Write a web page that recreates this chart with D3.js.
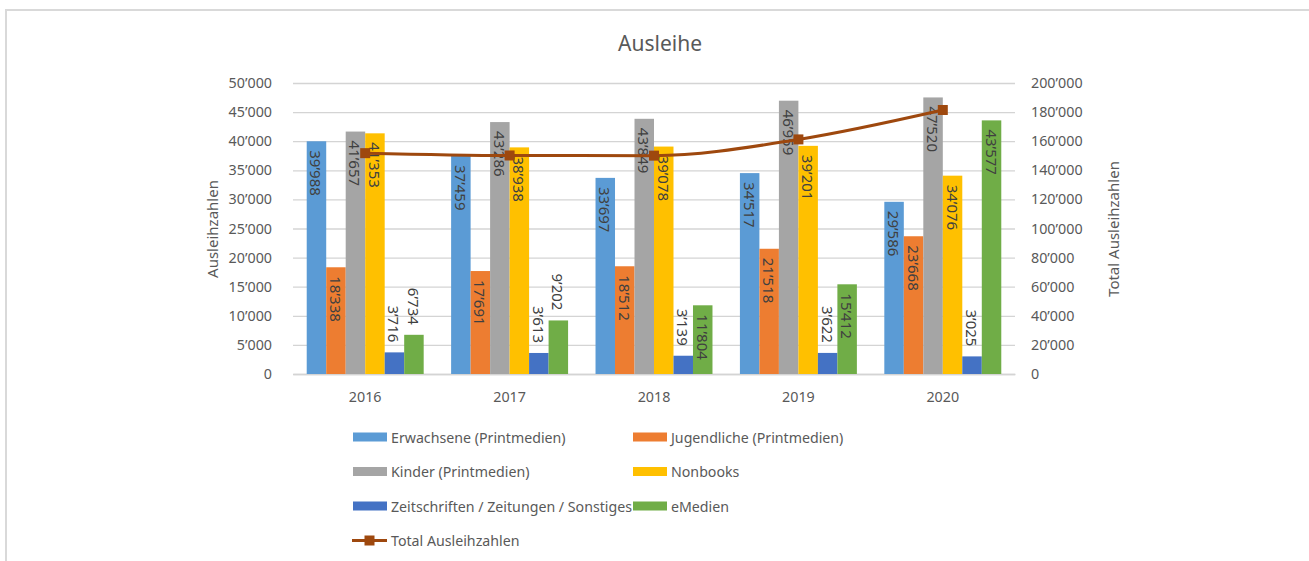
<!DOCTYPE html>
<html>
<head>
<meta charset="utf-8">
<script src="https://cdn.jsdelivr.net/npm/d3@7"></script>
<style>
  body { margin: 0; background: #fff; font-family: "Noto Sans", sans-serif; }
  text { fill: #595959; }
</style>
</head>
<body>
<svg id="chart" width="1309" height="561"></svg>
<script>
// data
var years = ["2016", "2017", "2018", "2019", "2020"];
var seriesNames = ["Erwachsene (Printmedien)", "Jugendliche (Printmedien)", "Kinder (Printmedien)",
                   "Nonbooks", "Zeitschriften / Zeitungen / Sonstiges", "eMedien"];
var erwachsene    = [39988, 37459, 33697, 34517, 29586];
var jugendliche   = [18338, 17691, 18512, 21518, 23668];
var kinder        = [41657, 43286, 43849, 46959, 47520];
var nonbooks      = [41353, 38938, 39078, 39201, 34076];
var zeitschriften = [3716, 3613, 3139, 3622, 3025];
var emedien       = [6734, 9202, 11804, 15412, 43577];
var total         = [151786, 150189, 150079, 161229, 181452];
var totalName = "Total  Ausleihzahlen";
var leftTicks  = [0, 5000, 10000, 15000, 20000, 25000, 30000, 35000, 40000, 45000, 50000];
var rightTicks = [0, 20000, 40000, 60000, 80000, 100000, 120000, 140000, 160000, 180000, 200000];

var colors = ["#5B9BD5", "#ED7D31", "#A5A5A5", "#FFC000", "#4472C4", "#70AD47"];
var lineColor = "#9E480E";
var seriesValues = [erwachsene, jugendliche, kinder, nonbooks, zeitschriften, emedien];

var loc = d3.formatLocale({decimal: ".", thousands: "\u2019", grouping: [3], currency: ["", ""]});
var fmt = loc.format(",d");

var svg = d3.select("#chart");

// outer frame
svg.append("rect")
  .attr("x", 6).attr("y", 10).attr("width", 1400).attr("height", 600)
  .attr("fill", "none").attr("stroke", "#d9d9d9").attr("stroke-width", 2);

var plotL = 293, plotR = 1015, plotB = 374, plotT = 83;

var x0 = d3.scaleBand().domain(years).range([plotL, plotR]).paddingInner(0.19).paddingOuter(0.095);
var x1 = d3.scaleBand().domain(d3.range(seriesNames.length)).range([0, x0.bandwidth()]);
var y = d3.scaleLinear().domain([0, 50000]).range([plotB, plotT]);
var y2 = d3.scaleLinear().domain([0, 200000]).range([plotB, plotT]);

// gridlines + left axis
var gAxL = svg.append("g").attr("transform", "translate(" + plotL + ",0)")
  .call(d3.axisLeft(y).tickValues(leftTicks).tickFormat(fmt).tickSize(-(plotR - plotL)).tickPadding(21));
gAxL.select(".domain").remove();
gAxL.selectAll(".tick line").attr("stroke", "#d4d4d4").attr("stroke-width", 1.3);
gAxL.selectAll(".tick text").attr("font-size", "14.3px").attr("font-family", "Noto Sans").attr("fill", "#595959");

// right axis (labels only)
var gAxR = svg.append("g").attr("transform", "translate(" + plotR + ",0)")
  .call(d3.axisRight(y2).tickValues(rightTicks).tickFormat(fmt).tickSize(0).tickPadding(16));
gAxR.select(".domain").remove();
gAxR.selectAll(".tick text").attr("font-size", "14.3px").attr("font-family", "Noto Sans").attr("fill", "#595959");

// category axis
var gAxB = svg.append("g").attr("transform", "translate(0," + plotB + ")")
  .call(d3.axisBottom(x0).tickSize(0).tickPadding(18));
gAxB.select(".domain").attr("stroke", "#d4d4d4").attr("stroke-width", 1.3);
gAxB.selectAll(".tick text").attr("font-size", "14.3px").attr("font-family", "Noto Sans").attr("fill", "#595959");

// bars
var groups = svg.append("g").selectAll("g").data(years).join("g")
  .attr("transform", function(d) { return "translate(" + x0(d) + ",0)"; });

groups.each(function(year, yi) {
  var g = d3.select(this);
  seriesValues.forEach(function(vals, si) {
    var v = vals[yi];
    var bx = x1(si), bw = x1.bandwidth();
    g.append("rect")
      .attr("x", bx).attr("y", y(v))
      .attr("width", bw).attr("height", plotB - y(v))
      .attr("fill", colors[si]);
  });
});

// total line
var line = d3.line()
  .x(function(d, i) { return x0(years[i]) + x0.bandwidth() / 2; })
  .y(function(d) { return y2(d); })
  .curve(d3.curveMonotoneX);

svg.append("path").datum(total)
  .attr("d", line).attr("fill", "none")
  .attr("stroke", lineColor).attr("stroke-width", 3);

svg.append("g").selectAll("rect").data(total).join("rect")
  .attr("x", function(d, i) { return x0(years[i]) + x0.bandwidth() / 2 - 5; })
  .attr("y", function(d) { return y2(d) - 5; })
  .attr("width", 10).attr("height", 10)
  .attr("fill", lineColor);

// bar labels (drawn above the line, like the reference)
groups.each(function(year, yi) {
  var g = d3.select(this);
  seriesValues.forEach(function(vals, si) {
    var v = vals[yi];
    var bx = x1(si), bw = x1.bandwidth();
    var h = plotB - y(v);
    var inside = h > 60;
    g.append("text")
      .attr("transform", "translate(" + (bx + bw / 2) + "," + (inside ? y(v) + 9 : y(v) - 10) + ") rotate(90)")
      .attr("text-anchor", inside ? "start" : "end")
      .attr("dominant-baseline", "central")
      .attr("font-size", "15px")
      .style("fill", "#404040")
      .text(fmt(v));
  });
});

// title
svg.append("text").attr("x", 660).attr("y", 51).attr("text-anchor", "middle")
  .attr("font-size", "21px").text("Ausleihe");

// axis titles
svg.append("text").attr("transform", "translate(212,229) rotate(-90)").attr("text-anchor", "middle")
  .attr("dominant-baseline", "central").attr("font-size", "15px").text("Ausleihzahlen");
svg.append("text").attr("transform", "translate(1113,229) rotate(-90)").attr("text-anchor", "middle")
  .attr("dominant-baseline", "central").attr("font-size", "15px").text("Total Ausleihzahlen");

// legend
var legend = svg.append("g");
seriesNames.forEach(function(name, i) {
  var col = i % 2, row = Math.floor(i / 2);
  var lx = col === 0 ? 353 : 633;
  var ly = 437 + row * 34.5;
  legend.append("rect").attr("x", lx).attr("y", ly - 4.5).attr("width", 34).attr("height", 9)
    .attr("fill", colors[i]);
  legend.append("text").attr("x", lx + 38).attr("y", ly).attr("dominant-baseline", "central")
    .attr("font-size", "14.2px").text(name);
});
var ly = 437 + 3 * 34.5;
legend.append("line").attr("x1", 352).attr("x2", 387).attr("y1", ly).attr("y2", ly)
  .attr("stroke", lineColor).attr("stroke-width", 3);
legend.append("rect").attr("x", 364.5).attr("y", ly - 5).attr("width", 10).attr("height", 10)
  .attr("fill", lineColor);
legend.append("text").attr("x", 391).attr("y", ly).attr("dominant-baseline", "central")
  .attr("font-size", "14.2px").text(totalName);
</script>
</body>
</html>
